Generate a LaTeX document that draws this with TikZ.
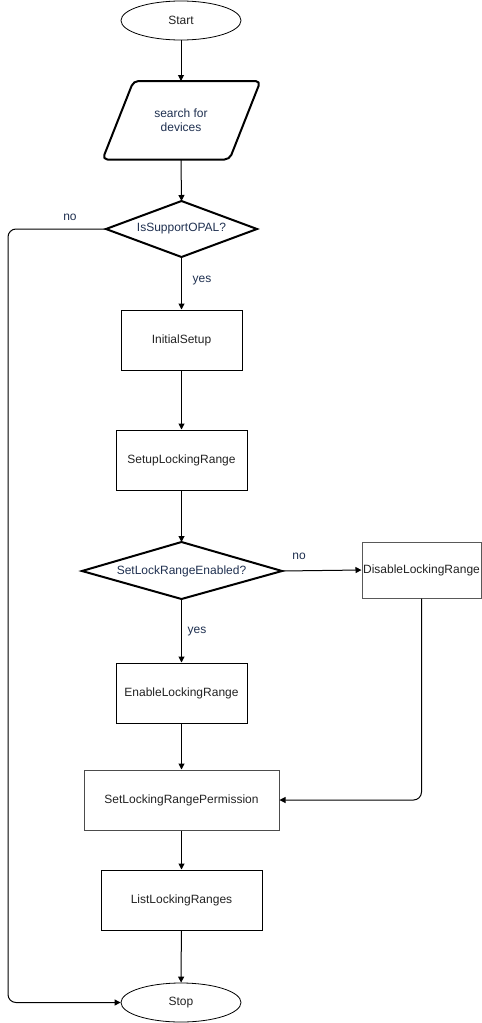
\documentclass[tikz,border=0pt]{standalone}
\usepackage{fontspec}
\setmainfont{Liberation Sans}
\usetikzlibrary{shapes.geometric,arrows.meta}
\definecolor{navy}{HTML}{1F3050}
\definecolor{boxtxt}{HTML}{222222}
\begin{document}
\begin{tikzpicture}[x=1pt,y=-1pt,
  font=\fontsize{12}{14}\selectfont,
  term/.style={ellipse,draw=black,line width=0.8pt,minimum width=120pt,minimum height=39pt,inner sep=0pt,text=boxtxt},
  proc/.style={rectangle,draw=black,line width=1pt,inner sep=0pt,text=boxtxt},
  shapeline/.style={draw=black,line width=2pt,line join=miter},
  lbl/.style={text=navy,inner sep=0pt},
  flow/.style={draw=black,line width=1pt,-{Triangle[length=6pt,width=6pt]},rounded corners=8pt}]
\useasboundingbox (0,0) rectangle (482,1023);
\node[term] (start) at (181,20.5) {Start};
% parallelogram
\draw[line width=2pt,rounded corners=5pt,line join=round] (133.5,81) -- (260.5,81) -- (229.5,159.5) -- (102.5,159.5) -- cycle;
\node[lbl,align=center] (search) at (181,120) {search for\\devices};
\coordinate (searchT) at (181,81);
\coordinate (searchB) at (181,159.5);
% decision 1
\coordinate (d1N) at (181.5,201);
\coordinate (d1S) at (181.5,257);
\coordinate (d1W) at (106,229);
\coordinate (d1E) at (257,229);
\draw[shapeline] (d1N) -- (d1E) -- (d1S) -- (d1W) -- cycle;
\node[lbl] (d1) at (181.5,229) {IsSupportOPAL?};
\node[proc,minimum width=121pt,minimum height=60pt] (init) at (181.5,340) {InitialSetup};
\node[proc,minimum width=131pt,minimum height=60pt] (setup) at (181.5,460) {SetupLockingRange};
% decision 2
\coordinate (d2N) at (181.5,542);
\coordinate (d2S) at (181.5,599);
\coordinate (d2W) at (82,571);
\coordinate (d2E) at (282,571);
\draw[shapeline] (d2N) -- (d2E) -- (d2S) -- (d2W) -- cycle;
\node[lbl] (d2) at (181.5,571) {SetLockRangeEnabled?};
\node[proc,draw=black!65,minimum width=119pt,minimum height=56pt] (dis) at (421.5,570) {DisableLockingRange};
\node[proc,minimum width=131pt,minimum height=60pt] (en) at (181.5,693) {EnableLockingRange};
\node[proc,draw=black!70,minimum width=195pt,minimum height=60pt] (perm) at (181.5,800) {SetLockingRangePermission};
\node[proc,minimum width=161pt,minimum height=60pt] (list) at (181.5,900) {ListLockingRanges};
\node[term] (stop) at (181,1002.5) {Stop};
\draw[flow] (start) -- (searchT);
\draw[flow] (searchB) -- (d1N);
\draw[flow] (d1S) -- (init.north);
\node[lbl] (yes1) at (202,281) {yes};
\draw[flow] (d1W) -- (8,229) -- (8,1002.5) -- (stop.west);
\node[lbl] (no1) at (70,217) {no};
\draw[flow] (init) -- (setup);
\draw[flow] (setup) -- (d2N);
\draw[flow] (d2E) -- (dis.west);
\node[lbl] (no2) at (299,556) {no};
\draw[flow] (d2S) -- (en.north);
\node[lbl] (yes2) at (197,632) {yes};
\draw[flow] (en) -- (perm);
\draw[flow] (dis.south) -- (421.5,800) -- (perm.east);
\draw[flow] (perm) -- (list);
\draw[flow] (list) -- (stop);
\end{tikzpicture}
\end{document}
